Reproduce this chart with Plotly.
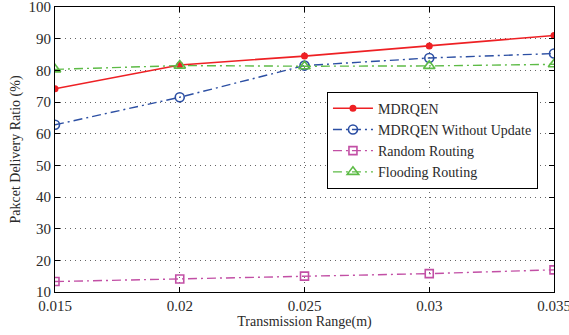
import plotly.graph_objects as go

x_range = [0.015, 0.02, 0.025, 0.03, 0.035]
mdrqen = [74.2, 81.7, 84.5, 87.7, 91.0]
mdrqen_no_update = [62.8, 71.5, 81.5, 83.9, 85.3]
random_routing = [13.3, 14.1, 15.0, 15.8, 17.0]
flooding_routing = [80.3, 81.5, 81.3, 81.4, 81.9]
x_ticks = ["0.015", "0.02", "0.025", "0.03", "0.035"]
y_ticks = list(range(10, 101, 10))

SERIF = "Liberation Serif"
TXT = "#2a2a2a"

fig = go.Figure()
fig.add_trace(go.Scatter(x=x_range, y=mdrqen, name="MDRQEN", mode="lines+markers",
                         line=dict(color="#ee2024", width=1.6),
                         marker=dict(symbol="circle", size=7, color="#ee2024")))
fig.add_trace(go.Scatter(x=x_range, y=mdrqen_no_update, name="MDRQEN Without Update", mode="lines+markers",
                         line=dict(color="#2c4fa3", width=1.4, dash="9px,4px,2px,4px"),
                         marker=dict(symbol="circle-open", size=9, color="#2c4fa3", line=dict(width=1.6))))
fig.add_trace(go.Scatter(x=x_range, y=random_routing, name="Random Routing", mode="lines+markers",
                         line=dict(color="#c24fa5", width=1.4, dash="9px,4px,2px,4px"),
                         marker=dict(symbol="square-open", size=8, color="#c24fa5", line=dict(width=1.6))))
fig.add_trace(go.Scatter(x=x_range, y=flooding_routing, name="Flooding Routing", mode="lines+markers",
                         line=dict(color="#5dbb46", width=1.4, dash="9px,4px,2px,4px"),
                         marker=dict(symbol="triangle-up-open", size=10, color="#5dbb46", line=dict(width=1.6))))

axis_common = dict(showline=True, linecolor="black", linewidth=1.2, mirror="ticks",
                   ticks="inside", ticklen=5, tickcolor="black",
                   showgrid=True, gridcolor="#666666", griddash="1px,4px", gridwidth=1,
                   zeroline=False, ticklabeloverflow="allow", automargin=False)

fig.update_xaxes(range=[0.015, 0.035], tickvals=x_range, ticktext=x_ticks,
                 tickfont=dict(family="Liberation Serif", size=15, color=TXT),
                 title=dict(text="Transmission Range(m)", font=dict(family="Liberation Serif", size=14, color=TXT), standoff=0),
                 **axis_common)
fig.update_yaxes(range=[10, 100], tickvals=y_ticks,
                 tickfont=dict(family="Liberation Serif", size=15, color=TXT),
                 title=dict(text="Pakcet Delivery Ratio (%)", font=dict(family="Liberation Serif", size=14, color=TXT), standoff=4),
                 **axis_common)

fig.update_layout(
    width=569, height=335,
    margin=dict(l=55, r=15, t=7, b=43),
    plot_bgcolor="white", paper_bgcolor="white",
    legend=dict(x=0.545, y=0.703, xanchor="left", yanchor="top",
                bordercolor="black", borderwidth=1, bgcolor="white",
                font=dict(family="Liberation Serif", size=14, color=TXT),
                tracegroupgap=0, itemwidth=40),
    showlegend=True,
)

fig.write_html("out.html")
